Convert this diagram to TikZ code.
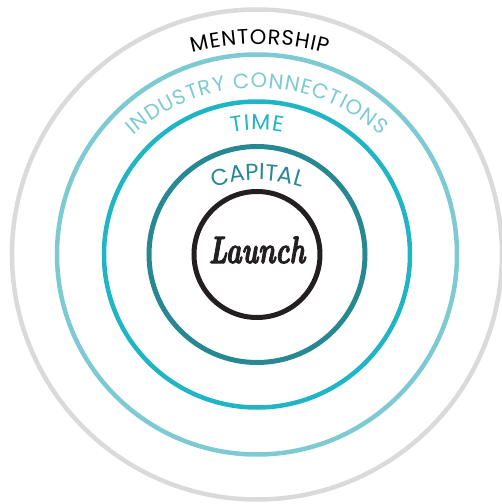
\documentclass[tikz,border=0pt]{standalone}
\usepackage{fontspec}
\newfontfamily\ringfont{Poppins}
\newfontfamily\launchfont{Latin Modern Roman}[FakeBold=3]
\usetikzlibrary{decorations.text}

\definecolor{mentorgrey}{HTML}{DADADA}
\definecolor{industryteal}{HTML}{7DCAD2}
\definecolor{timeteal}{HTML}{1FB5C5}
\definecolor{capitalteal}{HTML}{288892}
\definecolor{launchblack}{HTML}{231F20}

\tikzset{%
  ring/.style = {circle,draw=#1,line width=4.5pt,inner sep=0pt},
  arclabel/.style = {decorate,decoration={text along path,
        text align=fit to path,text={#1}}}
}

\begin{document}
\begin{tikzpicture}[x=1pt,y=1pt]
   \useasboundingbox (-257,-249.5) rectangle (245,254.5);

   % rings, outside in
   \node[ring=mentorgrey,minimum size=490pt] (mentorship) at (0,0) {};
   \node[ring=industryteal,minimum size=400pt] (industry) at (0,0) {};
   \node[ring=timeteal,minimum size=306pt] (time) at (0,0) {};
   \node[ring=capitalteal,minimum size=216pt,line width=5pt] (capital) at (0,0) {};
   \node[ring=launchblack,minimum size=126pt,line width=5pt] (launch) at (0,0) {};

   \node[anchor=base,text=launchblack,
         font=\launchfont\fontsize{38}{38}\selectfont\bfseries\itshape]
         (launch-text) at (0,-8.5) {\scalebox{0.7}[1]{Launch}};

   % labels along the rings
   \path[arclabel={|\ringfont\fontsize{21}{21}\selectfont\color{black}|MENTORSHIP}]
      (1,-49.5) ++(104.7:260pt) arc[start angle=104.7,end angle=74.6,radius=260pt];
   \path[arclabel={|\ringfont\fontsize{21}{21}\selectfont\color{industryteal}|INDUSTRY CONNECTIONS}]
      (0,-18.5) ++(132:185pt) arc[start angle=132,end angle=48,radius=185pt];
   \path[arclabel={|\ringfont\fontsize{22}{22}\selectfont\color{timeteal}|TIME}]
      (0,0) ++(101.8:124.5pt) arc[start angle=101.8,end angle=78.2,radius=124.5pt];
   \path[arclabel={|\ringfont\fontsize{23}{23}\selectfont\color{capitalteal}|CAPITAL}]
      (1,-65.5) ++(108.7:140pt) arc[start angle=108.7,end angle=72.5,radius=140pt];
\end{tikzpicture}
\end{document}
